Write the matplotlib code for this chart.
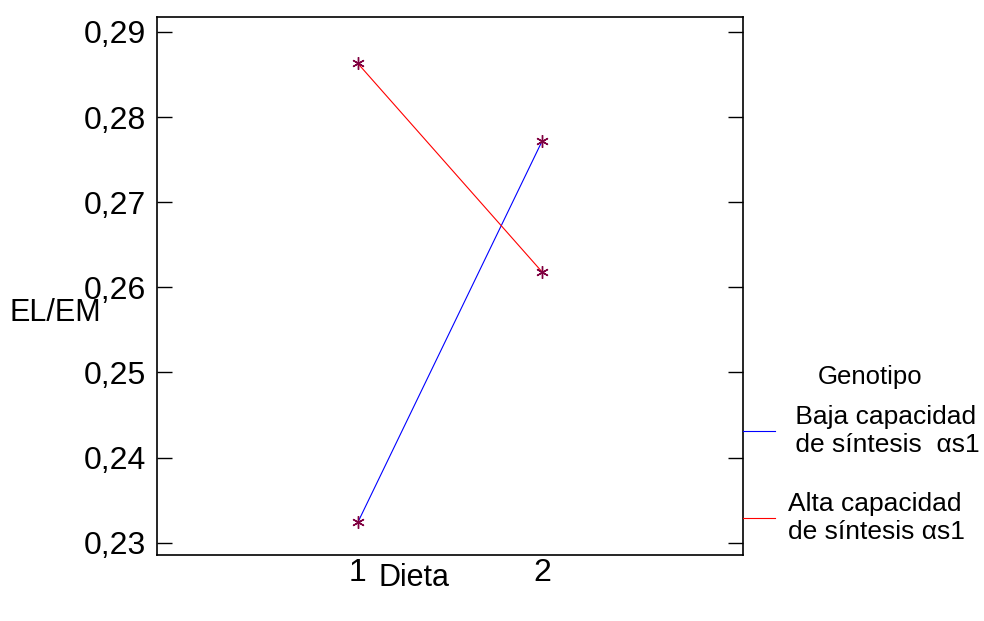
import matplotlib
matplotlib.use("Agg")
import matplotlib.pyplot as plt
from matplotlib.lines import Line2D
from matplotlib.ticker import FuncFormatter

plt.rcParams['font.family'] = ['Liberation Sans', 'DejaVu Sans']

dieta = [1, 2]
baja = [0.2324, 0.2772]
alta = [0.2863, 0.2618]
yticks = [0.23, 0.24, 0.25, 0.26, 0.27, 0.28, 0.29]
nombres = [" Baja capacidad\n de síntesis  αs1", "Alta capacidad\nde síntesis αs1"]
colores = ["#0000ff", "#ff0000"]
marca = "#800040"

fig = plt.figure(figsize=(9.84, 6.21), dpi=100)
ax = fig.add_axes([0.1596, 0.1063, 0.5955, 0.8663])

ax.plot(dieta, baja, color=colores[0], lw=0.8)
ax.plot(dieta, alta, color=colores[1], lw=0.8)
ax.plot(dieta, baja, ls='none', marker=(6, 2, 0), ms=9, mew=1, color=marca)
ax.plot(dieta, alta, ls='none', marker=(6, 2, 0), ms=9, mew=1, color=marca)

ax.set_xlim(-0.09, 3.09)
ax.set_ylim(0.22855, 0.29176)
ax.set_yticks(yticks)
ax.yaxis.set_major_formatter(FuncFormatter(lambda v, p: f"{v:.2f}".replace(".", ",")))
ax.set_xticks(dieta)
ax.tick_params(axis='y', direction='in', length=11, width=1, right=True,
               labelsize=23, pad=8)
ax.tick_params(axis='x', length=0, labelsize=23, pad=2)
for s in ax.spines.values():
    s.set_linewidth(1.2)

fig.text(0.4205, 0.069, "Dieta", fontsize=22, ha='center', va='center')
fig.text(0.01, 0.496, "EL/EM", fontsize=22, ha='left', va='center')
fig.text(0.884, 0.393, "Genotipo", fontsize=18.5, ha='center', va='center')

handles = [Line2D([], [], color=c, lw=0.8) for c in colores]
leg = ax.legend(handles, nombres, loc='upper left', bbox_to_anchor=(1.0, 0.279),
                frameon=False, fontsize=19,
                handlelength=1.2, handletextpad=0.5, borderpad=0, borderaxespad=0,
                labelspacing=1.35)

fig.savefig("out.png", dpi=100)
